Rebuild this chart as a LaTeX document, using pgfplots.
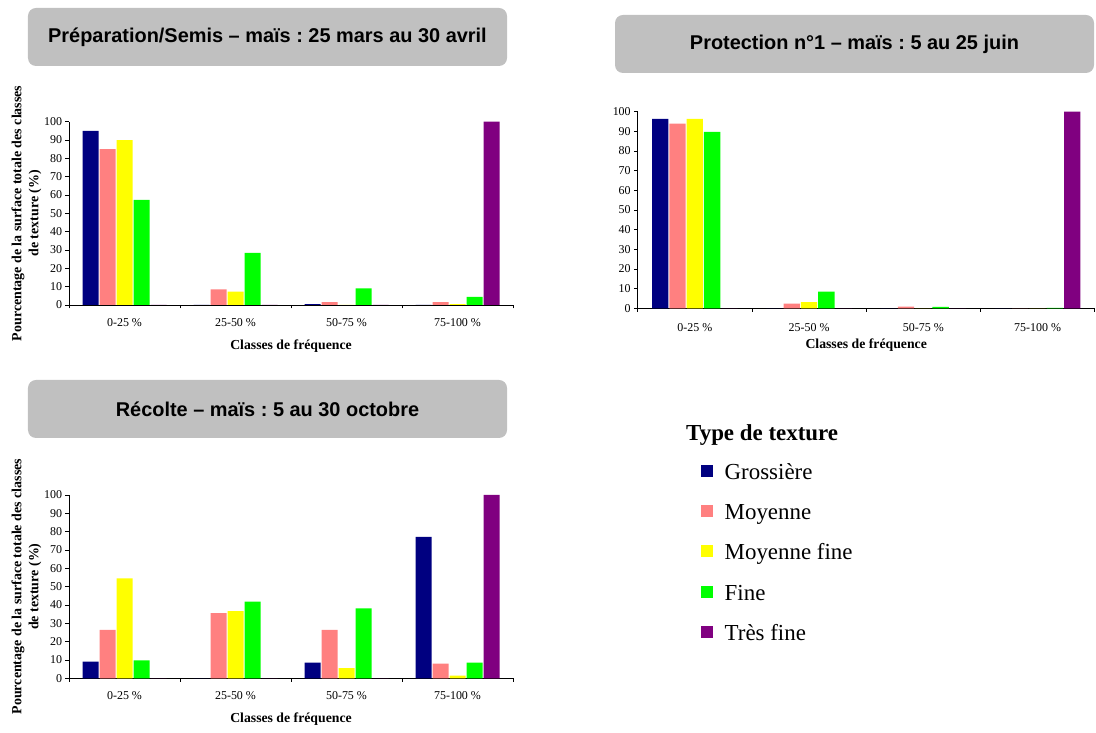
\documentclass[border=0pt]{standalone}
\usepackage{fontspec}
\setmainfont{Liberation Serif}
\newfontfamily\arialfont{Liberation Sans}
\usepackage{pgfplots}
\pgfplotsset{compat=1.18}
\frenchspacing
\definecolor{cnavy}{HTML}{000080}
\definecolor{cpink}{HTML}{FF8080}
\definecolor{cyellow}{HTML}{FFFF00}
\definecolor{cgreen}{HTML}{00FF00}
\definecolor{cpurple}{HTML}{800080}
\definecolor{boxgray}{HTML}{C0C0C0}
\pgfplotsset{
  chart/.style={
    scale only axis,
    anchor=south west,
    ybar=1bp,
    bar width=16bp,
    xmin=-0.5, xmax=3.5,
    ymin=0, ymax=100,
    enlarge x limits=false, enlarge y limits=false,
    axis x line*=bottom, axis y line*=left,
    axis line style={black, line width=0.8bp},
    xtick={-0.5,0.5,1.5,2.5,3.5},
    x tick label as interval,
    xticklabels={0-25 \%,25-50 \%,50-75 \%,75-100 \%},
    ytick={0,10,...,100},
    tick align=outside,
    major tick length=3.5bp,
    tick style={black, line width=0.8bp},
    /pgf/number format/assume math mode=true,
    tick label style={font=\fontsize{12}{14}\selectfont},
    xticklabel style={anchor=center, yshift=-14bp},
    xlabel style={font=\bfseries\fontsize{13.8}{16}\selectfont, at={(axis description cs:0.5,0)}, anchor=center, yshift=-41bp},
    ylabel style={font=\bfseries\fontsize{14}{17}\selectfont, align=center, at={(axis description cs:-0.0957,0.5)}, anchor=center, rotate=0},
    xlabel={Classes de fréquence},
  },
  ybarstyle/.style={fill=#1, draw=none, legend image code/.code={\fill[#1] (0bp,-3.3bp) rectangle (12bp,8.7bp);}},
}
\begin{document}
\begin{tikzpicture}[x=1bp,y=1bp]
\useasboundingbox (0,0) rectangle (1096,733);
% titles
\node[fill=boxgray, rounded corners=8bp, minimum width=479bp, minimum height=58bp, inner sep=0pt, font=\arialfont\bfseries\fontsize{20}{24}\selectfont] at (267.5,696) {Préparation/Semis – maïs : 25 mars au 30 avril};
\node[fill=boxgray, rounded corners=8bp, minimum width=479bp, minimum height=58bp, inner sep=0pt, font=\arialfont\bfseries\fontsize{20}{24}\selectfont] at (854.5,689) {Protection n°1 – maïs : 5 au 25 juin};
\node[fill=boxgray, rounded corners=8bp, minimum width=479bp, minimum height=58bp, inner sep=0pt, font=\arialfont\bfseries\fontsize{20}{24}\selectfont] at (267.5,324) {Récolte – maïs : 5 au 30 octobre};

% Chart 1
\begin{axis}[chart, at={(69bp,428bp)}, width=444bp, height=183.3bp,
  ylabel={Pourcentage de la surface totale des classes\\de texture (\%)}]
\addplot[ybarstyle=cnavy] coordinates {(0,95) (1,0) (2,0.5) (3,0)};
\addplot[ybarstyle=cpink] coordinates {(0,85) (1,8.5) (2,1.5) (3,1.5)};
\addplot[ybarstyle=cyellow] coordinates {(0,90) (1,7.3) (2,0) (3,0.5)};
\addplot[ybarstyle=cgreen] coordinates {(0,57.3) (1,28.4) (2,9.1) (3,4.4)};
\addplot[ybarstyle=cpurple] coordinates {(0,0) (1,0) (2,0) (3,100)};
\end{axis}

% Chart 2
\begin{axis}[chart, at={(637.7bp,424.7bp)}, width=457bp, height=196.6bp,
  bar width=16.3bp, xlabel style={yshift=4.3bp}, xticklabel style={yshift=-1.4bp}]
\addplot[ybarstyle=cnavy] coordinates {(0,96.3) (1,0) (2,0) (3,0)};
\addplot[ybarstyle=cpink] coordinates {(0,93.9) (1,2.4) (2,0.8) (3,0)};
\addplot[ybarstyle=cyellow] coordinates {(0,96.3) (1,3.1) (2,0) (3,0)};
\addplot[ybarstyle=cgreen] coordinates {(0,89.7) (1,8.5) (2,0.7) (3,0.2)};
\addplot[ybarstyle=cpurple] coordinates {(0,0) (1,0) (2,0) (3,100)};
\end{axis}

% Chart 3
\begin{axis}[chart, at={(69bp,54.7bp)}, width=444bp, height=183.3bp,
  ylabel={Pourcentage de la surface totale des classes\\de texture (\%)},
  legend cell align=left,
  legend style={at={(axis description cs:1.4227,1.191)}, anchor=north west,
    draw=none, fill=none, inner sep=0pt, outer sep=0pt,
    row sep=13.35bp, column sep=10bp,
    font=\fontsize{23}{27}\selectfont,
    nodes={inner sep=2bp, text height=17.25bp, text depth=5.75bp}}]
\addplot[ybarstyle=cnavy] coordinates {(0,9.1) (1,0) (2,8.5) (3,77.1)};
\addplot[ybarstyle=cpink] coordinates {(0,26.4) (1,35.5) (2,26.4) (3,8.0)};
\addplot[ybarstyle=cyellow] coordinates {(0,54.5) (1,36.7) (2,5.6) (3,1.5)};
\addplot[ybarstyle=cgreen] coordinates {(0,9.8) (1,41.8) (2,38.2) (3,8.5)};
\addplot[ybarstyle=cpurple] coordinates {(0,0) (1,0) (2,0) (3,100)};
\legend{Grossière,Moyenne,Moyenne fine,Fine,Très fine}
\end{axis}

\node[anchor=base west, inner sep=0pt, font=\bfseries\fontsize{23}{27}\selectfont] at (686,292.5) {Type de texture};
\end{tikzpicture}
\end{document}
